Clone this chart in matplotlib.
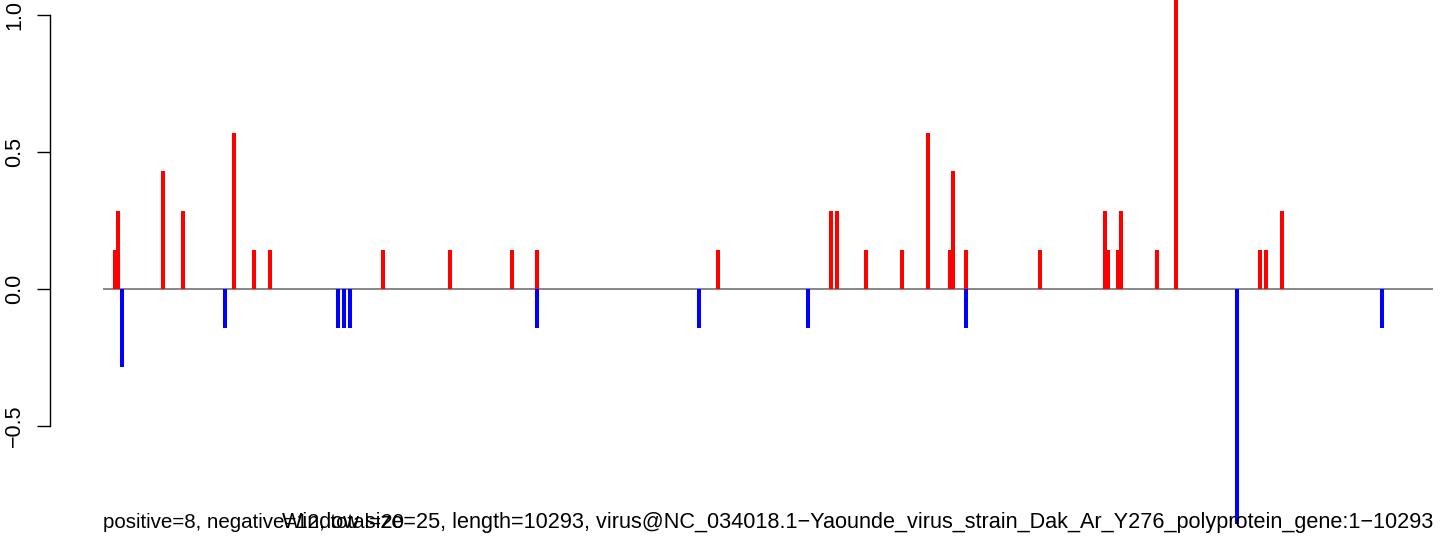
import matplotlib
matplotlib.use('Agg')
import matplotlib.pyplot as plt

# window positions (nt) and scores
pos_x = [89, 116, 464, 619, 1014, 1169, 1292, 2167, 2685, 3165, 3359, 4759,
         5634, 5680, 5905, 6183, 6385, 6555, 6578, 6679, 7251, 7754, 7778,
         7855, 7878, 8157, 8304, 8954, 9000, 9124]
pos_y = [0.143, 0.286, 0.429, 0.286, 0.571, 0.143, 0.143, 0.143, 0.143, 0.143,
         0.143, 0.143, 0.286, 0.286, 0.143, 0.143, 0.571, 0.143, 0.429, 0.143,
         0.143, 0.286, 0.143, 0.143, 0.286, 0.143, 1.143, 0.143, 0.143, 0.286]
neg_x = [147, 944, 1819, 1865, 1912, 3359, 4612, 5456, 6679, 8776, 9898]
neg_y = [-0.286, -0.143, -0.143, -0.143, -0.143, -0.143, -0.143, -0.143,
         -0.143, -0.857, -0.143]
y_ticks = [-0.5, 0.0, 0.5, 1.0]
seq_len = 10293
left_note = 'positive=8, negative=12, total=20'
right_note = ('Window size=25, length=10293, virus@NC_034018.1\u2212Yaounde_virus_'
              'strain_Dak_Ar_Y276_polyprotein_gene:1\u221210293')

plt.rcParams['font.family'] = ['Liberation Sans', 'DejaVu Sans']

fig = plt.figure(figsize=(14.44, 5.4), dpi=100)
ax = fig.add_axes([103 / 1444, 0, 1330 / 1444, 1])
ax.set_xlim(0, seq_len)
ax.set_ylim(-0.916, 1.0547)

ax.axhline(0, color='#666666', linewidth=1.1, zorder=1)
ax.vlines(pos_x, 0, pos_y, colors='#ff0000', linewidth=2.9, zorder=2)
ax.vlines(neg_x, 0, neg_y, colors='#0000ff', linewidth=2.9, zorder=2)

for s in ['top', 'right', 'bottom']:
    ax.spines[s].set_visible(False)
# y axis sits ~53 px left of the plot region
ax.spines['left'].set_position(('outward', 38))
ax.spines['left'].set_bounds(-0.5, 1.0)
ax.spines['left'].set_linewidth(1.0)
ax.set_xticks([])
ax.set_yticks(y_ticks)
ax.set_yticklabels(['\u22120.5', '0.0', '0.5', '1.0'], rotation=90, va='center',
                   fontsize=15.5)
ax.tick_params(axis='y', length=9.4, width=1.0, pad=8.5)

# the two notes overlap in the original too
ax.text(0, 0.022, left_note, transform=ax.transAxes, ha='left', va='baseline',
        fontsize=14.8, color='black')
ax.text(1, 0.022, right_note, transform=ax.transAxes, ha='right', va='baseline',
        fontsize=15.6, color='black')

fig.savefig('out.png', dpi=100)
